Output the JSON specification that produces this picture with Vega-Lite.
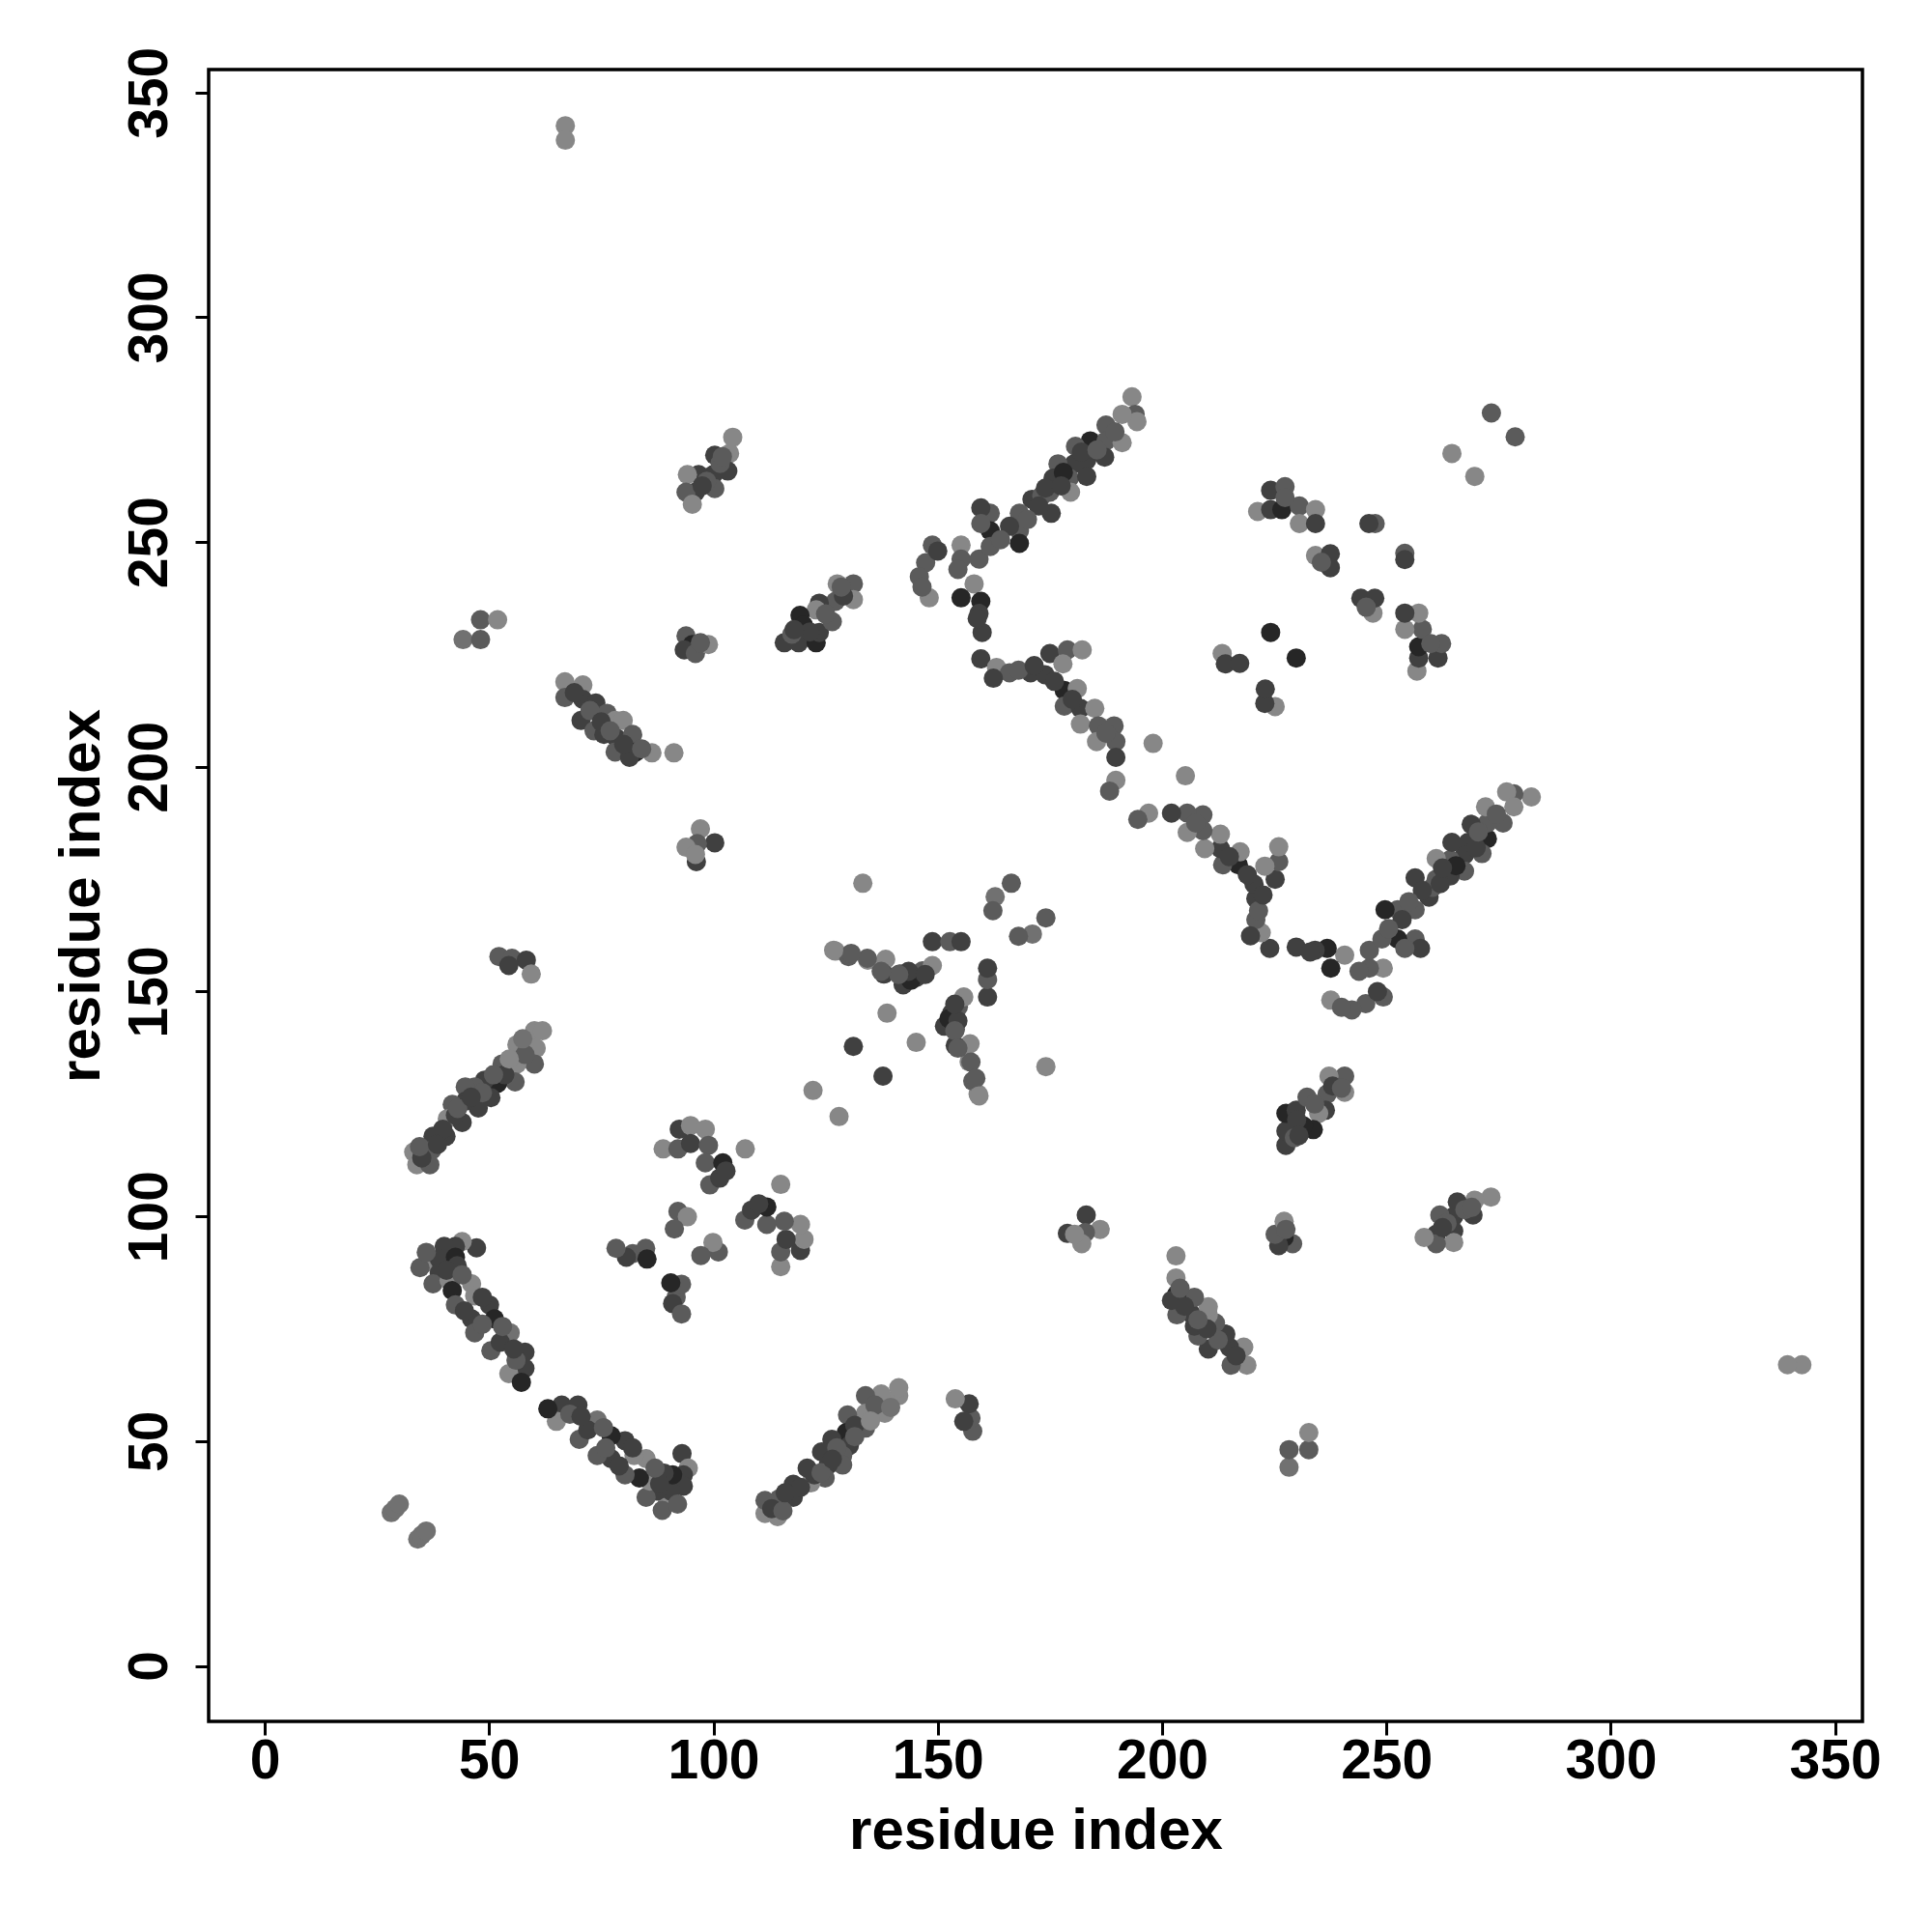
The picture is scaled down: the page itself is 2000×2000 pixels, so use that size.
{
"$schema": "https://vega.github.io/schema/vega-lite/v6.json",
"width": 1712,
"height": 1710,
"autosize": {"type": "none"},
"padding": {"left": 216, "top": 72, "right": 72, "bottom": 218},
"background": "white",
"config": {"view": {"stroke": "black", "strokeWidth": 3.5}, "font": "Liberation Sans"},
"data": {"values": [
{"i":67,"j":342.6,"prob":0.2},{"i":67,"j":339.4,"prob":0.2},
{"i":28.2,"j":34.1,"prob":0.35},{"i":29.1,"j":35,"prob":0.35},{"i":30,"j":36,"prob":0.35},
{"i":44.2,"j":228.3,"prob":0.35},{"i":48.1,"j":228.3,"prob":0.5},{"i":48.1,"j":232.7,"prob":0.5},{"i":51.9,"j":232.7,"prob":0.2},
{"i":66.9,"j":218.9,"prob":0.2},{"i":70.9,"j":218.2,"prob":0.2},{"i":66.9,"j":215.4,"prob":0.5},{"i":70.9,"j":215,"prob":0.7},{"i":73.8,"j":214.2,"prob":0.7},{"i":70.5,"j":210.3,"prob":0.7},{"i":73.4,"j":208,"prob":0.5},{"i":76.3,"j":211.9,"prob":0.5},{"i":75.6,"j":207.2,"prob":0.7},{"i":78.1,"j":210.3,"prob":0.2},{"i":78.4,"j":206.4,"prob":0.7},{"i":78.1,"j":203.3,"prob":0.5},{"i":79.9,"j":210.3,"prob":0.2},{"i":82,"j":207.2,"prob":0.5},{"i":82.7,"j":203.3,"prob":0.9},{"i":81.3,"j":202.1,"prob":0.7},{"i":86.3,"j":203.1,"prob":0.2},{"i":91.2,"j":203.1,"prob":0.2},{"i":72.5,"j":212.5,"prob":0.5},{"i":75,"j":210,"prob":0.7},{"i":77,"j":208,"prob":0.5},{"i":80,"j":205,"prob":0.7},{"i":69,"j":216.5,"prob":0.7},{"i":84,"j":204,"prob":0.5},
{"i":104.3,"j":273.3,"prob":0.2},{"i":103.6,"j":269.7,"prob":0.2},{"i":100.3,"j":269.3,"prob":0.7},{"i":103.2,"j":265.8,"prob":0.7},{"i":100,"j":265,"prob":0.7},{"i":96.7,"j":265,"prob":0.7},{"i":94.2,"j":265,"prob":0.2},{"i":96,"j":261.1,"prob":0.7},{"i":93.9,"j":261.1,"prob":0.5},{"i":95.3,"j":258.4,"prob":0.2},{"i":100.3,"j":261.9,"prob":0.5},{"i":98.5,"j":263.5,"prob":0.5},{"i":101.5,"j":267.5,"prob":0.5},{"i":97.5,"j":262.5,"prob":0.7},{"i":102,"j":269,"prob":0.5},
{"i":93.9,"j":229.1,"prob":0.5},{"i":95.3,"j":227.2,"prob":0.9},{"i":93.5,"j":226,"prob":0.7},{"i":96,"j":225.2,"prob":0.5},{"i":98.9,"j":227.2,"prob":0.2},{"i":97.1,"j":227.6,"prob":0.5},
{"i":97.1,"j":186.2,"prob":0.2},{"i":100.3,"j":183.1,"prob":0.7},{"i":96.4,"j":182.9,"prob":0.5},{"i":93.9,"j":182.1,"prob":0.2},{"i":96.2,"j":178.9,"prob":0.7},{"i":96,"j":180.5,"prob":0.2},
{"i":60.1,"j":141.3,"prob":0.2},{"i":61.9,"j":141.3,"prob":0.2},{"i":60.5,"j":137.4,"prob":0.2},{"i":56.2,"j":138.2,"prob":0.2},{"i":60.1,"j":133.9,"prob":0.5},{"i":56.2,"j":133.9,"prob":0.2},{"i":52.9,"j":133.9,"prob":0.5},{"i":55.8,"j":129.9,"prob":0.5},{"i":51.9,"j":129.6,"prob":0.9},{"i":49,"j":130.3,"prob":0.7},{"i":46.8,"j":128.8,"prob":0.5},{"i":44.7,"j":128.8,"prob":0.5},{"i":50.4,"j":126.4,"prob":0.7},{"i":47.6,"j":124.1,"prob":0.7},{"i":44.7,"j":125.6,"prob":0.7},{"i":41.8,"j":124.9,"prob":0.5},{"i":40.7,"j":121.7,"prob":0.2},{"i":44,"j":120.9,"prob":0.7},{"i":40.4,"j":117.8,"prob":0.7},{"i":37.5,"j":117.8,"prob":0.7},{"i":37.2,"j":114.7,"prob":0.5},{"i":33.2,"j":114.3,"prob":0.2},{"i":33.9,"j":111.5,"prob":0.2},{"i":36.8,"j":111.5,"prob":0.5},{"i":39.7,"j":119.4,"prob":0.7},{"i":42.5,"j":122.5,"prob":0.7},{"i":53.5,"j":131.5,"prob":0.7},{"i":48.5,"j":127.5,"prob":0.5},{"i":58,"j":136,"prob":0.5},{"i":35,"j":113,"prob":0.7},{"i":34.5,"j":115.5,"prob":0.5},{"i":38.5,"j":116,"prob":0.7},{"i":43,"j":124,"prob":0.5},{"i":46,"j":126.5,"prob":0.7},{"i":51,"j":131.5,"prob":0.5},{"i":54.5,"j":135,"prob":0.2},{"i":57.5,"j":139.5,"prob":0.35},
{"i":52.2,"j":157.8,"prob":0.5},{"i":55.1,"j":157.4,"prob":0.5},{"i":58.3,"j":157,"prob":0.7},{"i":59.4,"j":153.9,"prob":0.2},{"i":54.4,"j":155.8,"prob":0.7},
{"i":47.2,"j":93,"prob":0.7},{"i":44,"j":94.4,"prob":0.2},{"i":42.5,"j":93.3,"prob":0.7},{"i":40,"j":93.3,"prob":0.7},{"i":36.1,"j":89.7,"prob":0.2},{"i":34.6,"j":88.6,"prob":0.5},{"i":38.9,"j":90.5,"prob":0.7},{"i":42.5,"j":90.9,"prob":0.9},{"i":42.9,"j":89,"prob":0.7},{"i":38.9,"j":87.4,"prob":0.7},{"i":37.5,"j":85,"prob":0.5},{"i":41.1,"j":85.8,"prob":0.2},{"i":41.8,"j":83.5,"prob":0.9},{"i":42.5,"j":80.3,"prob":0.5},{"i":46.1,"j":85,"prob":0.2},{"i":46.8,"j":82.3,"prob":0.2},{"i":50.1,"j":80.3,"prob":0.7},{"i":51.2,"j":77.2,"prob":0.9},{"i":46.1,"j":77.2,"prob":0.7},{"i":46.8,"j":74.1,"prob":0.5},{"i":50.4,"j":70.1,"prob":0.5},{"i":54.7,"j":74.1,"prob":0.35},{"i":58,"j":69.8,"prob":0.7},{"i":58,"j":66.2,"prob":0.7},{"i":54.4,"j":65,"prob":0.2},{"i":57.2,"j":63.1,"prob":0.9},{"i":44.5,"j":79,"prob":0.7},{"i":48.5,"j":76,"prob":0.5},{"i":52.5,"j":72,"prob":0.7},{"i":56,"j":68,"prob":0.5},{"i":36,"j":92,"prob":0.5},{"i":40.5,"j":88,"prob":0.7},{"i":44,"j":87,"prob":0.5},{"i":48.5,"j":82,"prob":0.7},{"i":53,"j":75.5,"prob":0.5},{"i":55.5,"j":70.5,"prob":0.7},
{"i":88.8,"j":115,"prob":0.2},{"i":92.1,"j":115,"prob":0.5},{"i":92.4,"j":119.4,"prob":0.7},{"i":94.9,"j":120.2,"prob":0.2},{"i":98.2,"j":119.4,"prob":0.2},{"i":94.9,"j":116.2,"prob":0.7},{"i":98.9,"j":115.8,"prob":0.5},{"i":98.2,"j":111.9,"prob":0.5},{"i":102.1,"j":111.9,"prob":0.9},{"i":107.1,"j":115,"prob":0.2},{"i":99.2,"j":107,"prob":0.5},{"i":101.4,"j":108.5,"prob":0.7},{"i":102.8,"j":110.1,"prob":0.7},{"i":92.1,"j":101.1,"prob":0.5},{"i":94.2,"j":99.9,"prob":0.2},{"i":91.3,"j":97.2,"prob":0.5},{"i":82,"j":91.7,"prob":0.5},{"i":84.9,"j":92.9,"prob":0.5},{"i":85.2,"j":90.5,"prob":0.9},{"i":80.6,"j":90.9,"prob":0.7},{"i":78.3,"j":92.9,"prob":0.5},
{"i":133.3,"j":174.1,"prob":0.2},{"i":166.4,"j":174.1,"prob":0.5},{"i":162.8,"j":171.1,"prob":0.35},{"i":162.3,"j":168,"prob":0.5},{"i":148.8,"j":161.1,"prob":0.7},{"i":152.7,"j":161.1,"prob":0.5},{"i":155.2,"j":161.1,"prob":0.7},{"i":127.2,"j":159,"prob":0.2},{"i":130.1,"j":157.8,"prob":0.5},{"i":134.4,"j":157,"prob":0.2},{"i":138.4,"j":157.2,"prob":0.2},{"i":138,"j":153.9,"prob":0.7},{"i":141.6,"j":153.9,"prob":0.7},{"i":142.3,"j":151.5,"prob":0.7},{"i":145.2,"j":153.1,"prob":0.7},{"i":146.6,"j":154.6,"prob":0.5},{"i":148.8,"j":155.8,"prob":0.2},{"i":138.7,"j":145.2,"prob":0.2},{"i":131.2,"j":137.8,"prob":0.7},{"i":122.2,"j":128,"prob":0.2},{"i":144,"j":152.5,"prob":0.9},{"i":143.5,"j":154.5,"prob":0.7},{"i":147.2,"j":153.8,"prob":0.7},{"i":141.3,"j":153.8,"prob":0.5},{"i":137.4,"j":154.5,"prob":0.5},{"i":134.3,"j":157.4,"prob":0.5},{"i":130.7,"j":158.5,"prob":0.5},{"i":126.8,"j":159.2,"prob":0.2},
{"i":127.6,"j":240.7,"prob":0.2},{"i":131.2,"j":240.7,"prob":0.5},{"i":131.2,"j":237.2,"prob":0.2},{"i":127.2,"j":236.8,"prob":0.5},{"i":123.6,"j":236.4,"prob":0.7},{"i":122.9,"j":234.9,"prob":0.2},{"i":119.3,"j":233.7,"prob":0.9},{"i":115.8,"j":227.6,"prob":0.7},{"i":119,"j":227.6,"prob":0.7},{"i":122.9,"j":227.6,"prob":0.9},{"i":123.6,"j":229.9,"prob":0.7},{"i":126.5,"j":232.3,"prob":0.5},{"i":120.1,"j":231.5,"prob":0.9},{"i":125,"j":234,"prob":0.5},{"i":129,"j":238,"prob":0.7},{"i":117.5,"j":229.5,"prob":0.5},{"i":121.5,"j":230,"prob":0.7},{"i":118,"j":230.5,"prob":0.7},{"i":128.5,"j":240,"prob":0.5},
{"i":148.8,"j":249.3,"prob":0.5},{"i":147.3,"j":245.4,"prob":0.5},{"i":145.9,"j":242.3,"prob":0.5},{"i":148.1,"j":237.6,"prob":0.2},{"i":155.2,"j":249.3,"prob":0.2},{"i":155.2,"j":246.2,"prob":0.5},{"i":154.5,"j":243.9,"prob":0.5},{"i":158.1,"j":240.7,"prob":0.2},{"i":155.2,"j":237.6,"prob":0.9},{"i":159.6,"j":236.8,"prob":0.9},{"i":159.2,"j":234.1,"prob":0.7},{"i":159.2,"j":246.2,"prob":0.5},{"i":146.5,"j":240,"prob":0.5},{"i":150,"j":248,"prob":0.7},
{"i":171,"j":259.5,"prob":0.7},{"i":168.2,"j":256.4,"prob":0.5},{"i":168.2,"j":252.5,"prob":0.5},{"i":168.2,"j":249.7,"prob":0.9},{"i":161.7,"j":256.4,"prob":0.5},{"i":159.6,"j":257.6,"prob":0.7},{"i":161.7,"j":252.5,"prob":0.9},{"i":161.7,"j":249,"prob":0.5},{"i":159.6,"j":254.1,"prob":0.5},{"i":193.3,"j":282.3,"prob":0.2},{"i":194,"j":278.4,"prob":0.5},{"i":194.4,"j":276.8,"prob":0.2},{"i":191.1,"j":278.4,"prob":0.2},{"i":187.5,"j":276,"prob":0.5},{"i":184,"j":272.5,"prob":0.9},{"i":187.5,"j":272.5,"prob":0.5},{"i":191.1,"j":272.1,"prob":0.2},{"i":187.2,"j":268.9,"prob":0.7},{"i":180.7,"j":271.3,"prob":0.5},{"i":183.2,"j":268.2,"prob":0.7},{"i":180.4,"j":267.4,"prob":0.7},{"i":176.8,"j":267.4,"prob":0.5},{"i":179.3,"j":264.2,"prob":0.5},{"i":183.2,"j":264.6,"prob":0.7},{"i":175.7,"j":264.2,"prob":0.7},{"i":175,"j":261.1,"prob":0.5},{"i":179.6,"j":261.1,"prob":0.2},{"i":173.2,"j":260.3,"prob":0.5},{"i":175.3,"j":256.4,"prob":0.7},{"i":172.5,"j":258,"prob":0.7},{"i":178,"j":265.5,"prob":0.9},{"i":182,"j":270,"prob":0.7},{"i":170,"j":255,"prob":0.5},{"i":174,"j":262,"prob":0.7},{"i":177.5,"j":262.5,"prob":0.7},{"i":185.5,"j":270.5,"prob":0.5},{"i":189.5,"j":274.5,"prob":0.5},{"i":166,"j":253.5,"prob":0.7},{"i":164,"j":250.5,"prob":0.5},
{"i":159.6,"j":224,"prob":0.7},{"i":163.1,"j":222.1,"prob":0.2},{"i":166,"j":220.9,"prob":0.5},{"i":170.7,"j":220.9,"prob":0.7},{"i":159.9,"j":229.9,"prob":0.7},{"i":158.8,"j":233,"prob":0.7},{"i":162.4,"j":219.7,"prob":0.7},{"i":175,"j":225.2,"prob":0.7},{"i":178.9,"j":226,"prob":0.5},{"i":182.2,"j":226,"prob":0.2},{"i":173.9,"j":220.5,"prob":0.7},{"i":177.9,"j":222.9,"prob":0.2},{"i":178.2,"j":217,"prob":0.9},{"i":181.1,"j":217.4,"prob":0.2},{"i":178.2,"j":213.5,"prob":0.5},{"i":181.8,"j":213,"prob":0.7},{"i":185,"j":213,"prob":0.2},{"i":181.8,"j":209.5,"prob":0.2},{"i":185.8,"j":209.1,"prob":0.5},{"i":189.3,"j":209.1,"prob":0.5},{"i":185.4,"j":205.6,"prob":0.2},{"i":189.7,"j":205.6,"prob":0.5},{"i":189.7,"j":202.1,"prob":0.7},{"i":189.7,"j":197,"prob":0.2},{"i":188.3,"j":194.6,"prob":0.5},{"i":198,"j":205.2,"prob":0.2},{"i":168,"j":221.5,"prob":0.5},{"i":176,"j":219,"prob":0.7},{"i":180,"j":215,"prob":0.7},{"i":187.5,"j":207.5,"prob":0.5},{"i":171.5,"j":222.5,"prob":0.7},
{"i":213.4,"j":225.2,"prob":0.2},{"i":214.1,"j":222.9,"prob":0.7},{"i":217.3,"j":223,"prob":0.7},{"i":224.2,"j":229.9,"prob":0.9},
{"i":224.2,"j":261.5,"prob":0.7},{"i":227.4,"j":262.3,"prob":0.5},{"i":221.3,"j":256.8,"prob":0.2},{"i":224.2,"j":257.2,"prob":0.7},{"i":226.7,"j":257.2,"prob":0.9},{"i":230.6,"j":258,"prob":0.5},{"i":234.2,"j":257.2,"prob":0.2},{"i":230.6,"j":254.1,"prob":0.2},{"i":234.2,"j":254.1,"prob":0.7},{"i":227.4,"j":259.9,"prob":0.5},{"i":247.5,"j":254.1,"prob":0.5},{"i":246.1,"j":254.1,"prob":0.7},{"i":234.2,"j":247,"prob":0.2},{"i":237.5,"j":247.4,"prob":0.7},{"i":237.5,"j":244.3,"prob":0.7},{"i":235.5,"j":245.5,"prob":0.5},
{"i":264.6,"j":269.7,"prob":0.2},{"i":273.4,"j":278.7,"prob":0.5},

{"i":342.6,"j":67,"prob":0.2},{"i":339.4,"j":67,"prob":0.2},
{"i":34.1,"j":28.2,"prob":0.35},{"i":35,"j":29.1,"prob":0.35},{"i":36,"j":30,"prob":0.35},
{"i":228.3,"j":44.2,"prob":0.35},{"i":228.3,"j":48.1,"prob":0.5},{"i":232.7,"j":48.1,"prob":0.5},{"i":232.7,"j":51.9,"prob":0.2},
{"i":218.9,"j":66.9,"prob":0.2},{"i":218.2,"j":70.9,"prob":0.2},{"i":215.4,"j":66.9,"prob":0.5},{"i":215,"j":70.9,"prob":0.7},{"i":214.2,"j":73.8,"prob":0.7},{"i":210.3,"j":70.5,"prob":0.7},{"i":208,"j":73.4,"prob":0.5},{"i":211.9,"j":76.3,"prob":0.5},{"i":207.2,"j":75.6,"prob":0.7},{"i":210.3,"j":78.1,"prob":0.2},{"i":206.4,"j":78.4,"prob":0.7},{"i":203.3,"j":78.1,"prob":0.5},{"i":210.3,"j":79.9,"prob":0.2},{"i":207.2,"j":82,"prob":0.5},{"i":203.3,"j":82.7,"prob":0.9},{"i":202.1,"j":81.3,"prob":0.7},{"i":203.1,"j":86.3,"prob":0.2},{"i":203.1,"j":91.2,"prob":0.2},{"i":212.5,"j":72.5,"prob":0.5},{"i":210,"j":75,"prob":0.7},{"i":208,"j":77,"prob":0.5},{"i":205,"j":80,"prob":0.7},{"i":216.5,"j":69,"prob":0.7},{"i":204,"j":84,"prob":0.5},
{"i":273.3,"j":104.3,"prob":0.2},{"i":269.7,"j":103.6,"prob":0.2},{"i":269.3,"j":100.3,"prob":0.7},{"i":265.8,"j":103.2,"prob":0.7},{"i":265,"j":100,"prob":0.7},{"i":265,"j":96.7,"prob":0.7},{"i":265,"j":94.2,"prob":0.2},{"i":261.1,"j":96,"prob":0.7},{"i":261.1,"j":93.9,"prob":0.5},{"i":258.4,"j":95.3,"prob":0.2},{"i":261.9,"j":100.3,"prob":0.5},{"i":263.5,"j":98.5,"prob":0.5},{"i":267.5,"j":101.5,"prob":0.5},{"i":262.5,"j":97.5,"prob":0.7},{"i":269,"j":102,"prob":0.5},
{"i":229.1,"j":93.9,"prob":0.5},{"i":227.2,"j":95.3,"prob":0.9},{"i":226,"j":93.5,"prob":0.7},{"i":225.2,"j":96,"prob":0.5},{"i":227.2,"j":98.9,"prob":0.2},{"i":227.6,"j":97.1,"prob":0.5},
{"i":186.2,"j":97.1,"prob":0.2},{"i":183.1,"j":100.3,"prob":0.7},{"i":182.9,"j":96.4,"prob":0.5},{"i":182.1,"j":93.9,"prob":0.2},{"i":178.9,"j":96.2,"prob":0.7},{"i":180.5,"j":96,"prob":0.2},
{"i":141.3,"j":60.1,"prob":0.2},{"i":141.3,"j":61.9,"prob":0.2},{"i":137.4,"j":60.5,"prob":0.2},{"i":138.2,"j":56.2,"prob":0.2},{"i":133.9,"j":60.1,"prob":0.5},{"i":133.9,"j":56.2,"prob":0.2},{"i":133.9,"j":52.9,"prob":0.5},{"i":129.9,"j":55.8,"prob":0.5},{"i":129.6,"j":51.9,"prob":0.9},{"i":130.3,"j":49,"prob":0.7},{"i":128.8,"j":46.8,"prob":0.5},{"i":128.8,"j":44.7,"prob":0.5},{"i":126.4,"j":50.4,"prob":0.7},{"i":124.1,"j":47.6,"prob":0.7},{"i":125.6,"j":44.7,"prob":0.7},{"i":124.9,"j":41.8,"prob":0.5},{"i":121.7,"j":40.7,"prob":0.2},{"i":120.9,"j":44,"prob":0.7},{"i":117.8,"j":40.4,"prob":0.7},{"i":117.8,"j":37.5,"prob":0.7},{"i":114.7,"j":37.2,"prob":0.5},{"i":114.3,"j":33.2,"prob":0.2},{"i":111.5,"j":33.9,"prob":0.2},{"i":111.5,"j":36.8,"prob":0.5},{"i":119.4,"j":39.7,"prob":0.7},{"i":122.5,"j":42.5,"prob":0.7},{"i":131.5,"j":53.5,"prob":0.7},{"i":127.5,"j":48.5,"prob":0.5},{"i":136,"j":58,"prob":0.5},{"i":113,"j":35,"prob":0.7},{"i":115.5,"j":34.5,"prob":0.5},{"i":116,"j":38.5,"prob":0.7},{"i":124,"j":43,"prob":0.5},{"i":126.5,"j":46,"prob":0.7},{"i":131.5,"j":51,"prob":0.5},{"i":135,"j":54.5,"prob":0.2},{"i":139.5,"j":57.5,"prob":0.35},
{"i":157.8,"j":52.2,"prob":0.5},{"i":157.4,"j":55.1,"prob":0.5},{"i":157,"j":58.3,"prob":0.7},{"i":153.9,"j":59.4,"prob":0.2},{"i":155.8,"j":54.4,"prob":0.7},
{"i":93,"j":47.2,"prob":0.7},{"i":94.4,"j":44,"prob":0.2},{"i":93.3,"j":42.5,"prob":0.7},{"i":93.3,"j":40,"prob":0.7},{"i":89.7,"j":36.1,"prob":0.2},{"i":88.6,"j":34.6,"prob":0.5},{"i":90.5,"j":38.9,"prob":0.7},{"i":90.9,"j":42.5,"prob":0.9},{"i":89,"j":42.9,"prob":0.7},{"i":87.4,"j":38.9,"prob":0.7},{"i":85,"j":37.5,"prob":0.5},{"i":85.8,"j":41.1,"prob":0.2},{"i":83.5,"j":41.8,"prob":0.9},{"i":80.3,"j":42.5,"prob":0.5},{"i":85,"j":46.1,"prob":0.2},{"i":82.3,"j":46.8,"prob":0.2},{"i":80.3,"j":50.1,"prob":0.7},{"i":77.2,"j":51.2,"prob":0.9},{"i":77.2,"j":46.1,"prob":0.7},{"i":74.1,"j":46.8,"prob":0.5},{"i":70.1,"j":50.4,"prob":0.5},{"i":74.1,"j":54.7,"prob":0.35},{"i":69.8,"j":58,"prob":0.7},{"i":66.2,"j":58,"prob":0.7},{"i":65,"j":54.4,"prob":0.2},{"i":63.1,"j":57.2,"prob":0.9},{"i":79,"j":44.5,"prob":0.7},{"i":76,"j":48.5,"prob":0.5},{"i":72,"j":52.5,"prob":0.7},{"i":68,"j":56,"prob":0.5},{"i":92,"j":36,"prob":0.5},{"i":88,"j":40.5,"prob":0.7},{"i":87,"j":44,"prob":0.5},{"i":82,"j":48.5,"prob":0.7},{"i":75.5,"j":53,"prob":0.5},{"i":70.5,"j":55.5,"prob":0.7},
{"i":115,"j":88.8,"prob":0.2},{"i":115,"j":92.1,"prob":0.5},{"i":119.4,"j":92.4,"prob":0.7},{"i":120.2,"j":94.9,"prob":0.2},{"i":119.4,"j":98.2,"prob":0.2},{"i":116.2,"j":94.9,"prob":0.7},{"i":115.8,"j":98.9,"prob":0.5},{"i":111.9,"j":98.2,"prob":0.5},{"i":111.9,"j":102.1,"prob":0.9},{"i":115,"j":107.1,"prob":0.2},{"i":107,"j":99.2,"prob":0.5},{"i":108.5,"j":101.4,"prob":0.7},{"i":110.1,"j":102.8,"prob":0.7},{"i":101.1,"j":92.1,"prob":0.5},{"i":99.9,"j":94.2,"prob":0.2},{"i":97.2,"j":91.3,"prob":0.5},{"i":91.7,"j":82,"prob":0.5},{"i":92.9,"j":84.9,"prob":0.5},{"i":90.5,"j":85.2,"prob":0.9},{"i":90.9,"j":80.6,"prob":0.7},{"i":92.9,"j":78.3,"prob":0.5},
{"i":174.1,"j":133.3,"prob":0.2},{"i":174.1,"j":166.4,"prob":0.5},{"i":171.1,"j":162.8,"prob":0.35},{"i":168,"j":162.3,"prob":0.5},{"i":161.1,"j":148.8,"prob":0.7},{"i":161.1,"j":152.7,"prob":0.5},{"i":161.1,"j":155.2,"prob":0.7},{"i":159,"j":127.2,"prob":0.2},{"i":157.8,"j":130.1,"prob":0.5},{"i":157,"j":134.4,"prob":0.2},{"i":157.2,"j":138.4,"prob":0.2},{"i":153.9,"j":138,"prob":0.7},{"i":153.9,"j":141.6,"prob":0.7},{"i":151.5,"j":142.3,"prob":0.7},{"i":153.1,"j":145.2,"prob":0.7},{"i":154.6,"j":146.6,"prob":0.5},{"i":155.8,"j":148.8,"prob":0.2},{"i":145.2,"j":138.7,"prob":0.2},{"i":137.8,"j":131.2,"prob":0.7},{"i":128,"j":122.2,"prob":0.2},{"i":152.5,"j":144,"prob":0.9},{"i":154.5,"j":143.5,"prob":0.7},{"i":153.8,"j":147.2,"prob":0.7},{"i":153.8,"j":141.3,"prob":0.5},{"i":154.5,"j":137.4,"prob":0.5},{"i":157.4,"j":134.3,"prob":0.5},{"i":158.5,"j":130.7,"prob":0.5},{"i":159.2,"j":126.8,"prob":0.2},
{"i":240.7,"j":127.6,"prob":0.2},{"i":240.7,"j":131.2,"prob":0.5},{"i":237.2,"j":131.2,"prob":0.2},{"i":236.8,"j":127.2,"prob":0.5},{"i":236.4,"j":123.6,"prob":0.7},{"i":234.9,"j":122.9,"prob":0.2},{"i":233.7,"j":119.3,"prob":0.9},{"i":227.6,"j":115.8,"prob":0.7},{"i":227.6,"j":119,"prob":0.7},{"i":227.6,"j":122.9,"prob":0.9},{"i":229.9,"j":123.6,"prob":0.7},{"i":232.3,"j":126.5,"prob":0.5},{"i":231.5,"j":120.1,"prob":0.9},{"i":234,"j":125,"prob":0.5},{"i":238,"j":129,"prob":0.7},{"i":229.5,"j":117.5,"prob":0.5},{"i":230,"j":121.5,"prob":0.7},{"i":230.5,"j":118,"prob":0.7},{"i":240,"j":128.5,"prob":0.5},
{"i":249.3,"j":148.8,"prob":0.5},{"i":245.4,"j":147.3,"prob":0.5},{"i":242.3,"j":145.9,"prob":0.5},{"i":237.6,"j":148.1,"prob":0.2},{"i":249.3,"j":155.2,"prob":0.2},{"i":246.2,"j":155.2,"prob":0.5},{"i":243.9,"j":154.5,"prob":0.5},{"i":240.7,"j":158.1,"prob":0.2},{"i":237.6,"j":155.2,"prob":0.9},{"i":236.8,"j":159.6,"prob":0.9},{"i":234.1,"j":159.2,"prob":0.7},{"i":246.2,"j":159.2,"prob":0.5},{"i":240,"j":146.5,"prob":0.5},{"i":248,"j":150,"prob":0.7},
{"i":259.5,"j":171,"prob":0.7},{"i":256.4,"j":168.2,"prob":0.5},{"i":252.5,"j":168.2,"prob":0.5},{"i":249.7,"j":168.2,"prob":0.9},{"i":256.4,"j":161.7,"prob":0.5},{"i":257.6,"j":159.6,"prob":0.7},{"i":252.5,"j":161.7,"prob":0.9},{"i":249,"j":161.7,"prob":0.5},{"i":254.1,"j":159.6,"prob":0.5},{"i":282.3,"j":193.3,"prob":0.2},{"i":278.4,"j":194,"prob":0.5},{"i":276.8,"j":194.4,"prob":0.2},{"i":278.4,"j":191.1,"prob":0.2},{"i":276,"j":187.5,"prob":0.5},{"i":272.5,"j":184,"prob":0.9},{"i":272.5,"j":187.5,"prob":0.5},{"i":272.1,"j":191.1,"prob":0.2},{"i":268.9,"j":187.2,"prob":0.7},{"i":271.3,"j":180.7,"prob":0.5},{"i":268.2,"j":183.2,"prob":0.7},{"i":267.4,"j":180.4,"prob":0.7},{"i":267.4,"j":176.8,"prob":0.5},{"i":264.2,"j":179.3,"prob":0.5},{"i":264.6,"j":183.2,"prob":0.7},{"i":264.2,"j":175.7,"prob":0.7},{"i":261.1,"j":175,"prob":0.5},{"i":261.1,"j":179.6,"prob":0.2},{"i":260.3,"j":173.2,"prob":0.5},{"i":256.4,"j":175.3,"prob":0.7},{"i":258,"j":172.5,"prob":0.7},{"i":265.5,"j":178,"prob":0.9},{"i":270,"j":182,"prob":0.7},{"i":255,"j":170,"prob":0.5},{"i":262,"j":174,"prob":0.7},{"i":262.5,"j":177.5,"prob":0.7},{"i":270.5,"j":185.5,"prob":0.5},{"i":274.5,"j":189.5,"prob":0.5},{"i":253.5,"j":166,"prob":0.7},{"i":250.5,"j":164,"prob":0.5},
{"i":224,"j":159.6,"prob":0.7},{"i":222.1,"j":163.1,"prob":0.2},{"i":220.9,"j":166,"prob":0.5},{"i":220.9,"j":170.7,"prob":0.7},{"i":229.9,"j":159.9,"prob":0.7},{"i":233,"j":158.8,"prob":0.7},{"i":219.7,"j":162.4,"prob":0.7},{"i":225.2,"j":175,"prob":0.7},{"i":226,"j":178.9,"prob":0.5},{"i":226,"j":182.2,"prob":0.2},{"i":220.5,"j":173.9,"prob":0.7},{"i":222.9,"j":177.9,"prob":0.2},{"i":217,"j":178.2,"prob":0.9},{"i":217.4,"j":181.1,"prob":0.2},{"i":213.5,"j":178.2,"prob":0.5},{"i":213,"j":181.8,"prob":0.7},{"i":213,"j":185,"prob":0.2},{"i":209.5,"j":181.8,"prob":0.2},{"i":209.1,"j":185.8,"prob":0.5},{"i":209.1,"j":189.3,"prob":0.5},{"i":205.6,"j":185.4,"prob":0.2},{"i":205.6,"j":189.7,"prob":0.5},{"i":202.1,"j":189.7,"prob":0.7},{"i":197,"j":189.7,"prob":0.2},{"i":194.6,"j":188.3,"prob":0.5},{"i":205.2,"j":198,"prob":0.2},{"i":221.5,"j":168,"prob":0.5},{"i":219,"j":176,"prob":0.7},{"i":215,"j":180,"prob":0.7},{"i":207.5,"j":187.5,"prob":0.5},{"i":222.5,"j":171.5,"prob":0.7},
{"i":225.2,"j":213.4,"prob":0.2},{"i":222.9,"j":214.1,"prob":0.7},{"i":223,"j":217.3,"prob":0.7},{"i":229.9,"j":224.2,"prob":0.9},
{"i":261.5,"j":224.2,"prob":0.7},{"i":262.3,"j":227.4,"prob":0.5},{"i":256.8,"j":221.3,"prob":0.2},{"i":257.2,"j":224.2,"prob":0.7},{"i":257.2,"j":226.7,"prob":0.9},{"i":258,"j":230.6,"prob":0.5},{"i":257.2,"j":234.2,"prob":0.2},{"i":254.1,"j":230.6,"prob":0.2},{"i":254.1,"j":234.2,"prob":0.7},{"i":259.9,"j":227.4,"prob":0.5},{"i":254.1,"j":247.5,"prob":0.5},{"i":254.1,"j":246.1,"prob":0.7},{"i":247,"j":234.2,"prob":0.2},{"i":247.4,"j":237.5,"prob":0.7},{"i":244.3,"j":237.5,"prob":0.7},{"i":245.5,"j":235.5,"prob":0.5},
{"i":269.7,"j":264.6,"prob":0.2},{"i":278.7,"j":273.4,"prob":0.5}
]},
"mark": {"type": "circle", "size": 400, "opacity": 1},
"encoding": {
"x": {"field": "i", "type": "quantitative",
"scale": {"domain": [-12.5, 356.1], "nice": false, "zero": false},
"axis": {"title": "residue index", "values": [0,50,100,150,200,250,300,350], "grid": false, "domain": false,
"ticks": true, "tickSize": 14, "tickWidth": 3, "tickColor": "black",
"labelFont": "Liberation Sans", "labelFontSize": 57, "labelFontWeight": "bold", "labelColor": "black",
"labelPadding": 44, "labelBaseline": "alphabetic", "labelFlush": false, "labelOverlap": false,
"titleFont": "Liberation Sans", "titleFontSize": 60, "titleFontWeight": "bold", "titleColor": "black",
"titleBaseline": "alphabetic", "titleY": 131}},
"y": {"field": "j", "type": "quantitative",
"scale": {"domain": [-12.35, 355.1], "nice": false, "zero": false},
"axis": {"title": "residue index", "values": [0,50,100,150,200,250,300,350], "grid": false, "domain": false,
"ticks": true, "tickSize": 14, "tickWidth": 3, "tickColor": "black",
"labelFont": "Liberation Sans", "labelFontSize": 57, "labelFontWeight": "bold", "labelColor": "black",
"labelAngle": 270, "labelAlign": "center", "labelBaseline": "alphabetic", "labelPadding": 30, "labelFlush": false, "labelOverlap": false,
"titleFont": "Liberation Sans", "titleFontSize": 60, "titleFontWeight": "bold", "titleColor": "black",
"titleAngle": 270, "titleAlign": "center", "titleBaseline": "alphabetic", "titleX": -113.6, "titleY": 855}},
"color": {"field": "prob", "type": "quantitative", "scale": {"domain": [0.2, 0.9], "range": ["#878787", "#262626"]}, "legend": null}
}
}
